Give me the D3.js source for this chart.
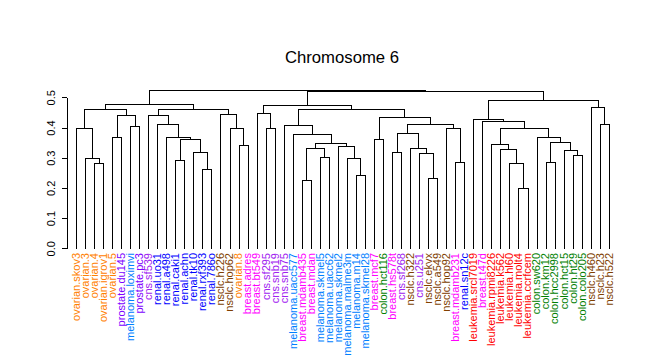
<!DOCTYPE html>
<html><head><meta charset="utf-8">
<script src="https://cdn.jsdelivr.net/npm/d3@7/dist/d3.min.js"></script>
<style>
body{margin:0;background:#fff}
svg{display:block}
text{font-family:"Liberation Sans",Arial,Helvetica,sans-serif}
</style>
</head><body>
<svg id="chart" width="647" height="360"></svg>
<script>
const title = "Chromosome 6";

const labels = [
  "ovarian.skov3","ovarian.3","ovarian.4","ovarian.igrov1","ovarian.5",
  "prostate.du145","melanoma.loximvi","prostate.pc3","cns.sf539","renal.uo31",
  "renal.a498","renal.caki1","renal.achn","renal.tk10","renal.rxf393",
  "renal.786o","nsclc.h226","nsclc.hop62","ovarian.8","breast.adres",
  "breast.bt549","cns.sf295","cns.snb19","cns.snb75","melanoma.uacc577",
  "breast.mdamb435","breast.mdan","melanoma.skmel5","melanoma.uacc62","melanoma.skmel2",
  "melanoma.malme3m","melanoma.m14","melanoma.skmel28","breast.mcf7","colon.hct116",
  "breast.hs578t","cns.sf268","nsclc.h322","cns.u251","nsclc.ekvx",
  "nsclc.a549","nsclc.hop92","breast.mdamb231","renal.sn12c","leukemia.srcl7019",
  "breast.t47d","leukemia.rpmi8226","leukemia.k562","leukemia.hl60","leukemia.molt4",
  "leukemia.ccrfcem","colon.sw620","colon.km12","colon.hcc2998","colon.hct15",
  "colon.ht29","colon.colo205","nsclc.h460","nsclc.h23","nsclc.h522"
];

// merges: negative = leaf (1-based position), positive = earlier merge (1-based)
const merges = [
  [-3,-4],[-2,1],[-1,2],[-5,-6],[-7,-8],[4,5],[3,6],
  [-15,-16],[-14,8],[-12,-13],[10,9],[-11,11],[-10,12],[-9,13],
  [-19,-20],[-18,15],[-17,16],[14,17],[7,18],
  [-22,-23],[-21,20],[-26,-27],[-28,-29],[22,23],[-32,-33],[-31,25],[-30,26],
  [24,27],[-25,28],[-24,29],[-34,-35],[-36,-37],[-40,-41],[-39,33],[-38,34],
  [32,35],[-43,-44],[-42,37],[36,38],[31,39],[30,40],[21,41],
  [-50,-51],[-49,43],[-48,44],[-47,45],[-53,-54],[-56,-57],[-55,48],[47,49],
  [-52,50],[46,51],[-46,52],[-45,53],[-59,-60],[-58,55],[54,56],[42,57],[19,58]
];
const mergeHeights = [
  0.283,0.298,0.400,0.370,0.406,0.442,0.460,
  0.262,0.320,0.293,0.361,0.370,0.410,0.440,
  0.341,0.400,0.444,0.460,0.477,
  0.397,0.447,0.227,0.301,0.331,0.242,0.298,0.338,
  0.348,0.377,0.407,0.361,0.318,0.232,0.317,0.331,
  0.383,0.285,0.397,0.413,0.436,0.460,0.473,
  0.199,0.281,0.328,0.344,0.285,0.308,0.327,0.353,
  0.368,0.400,0.420,0.427,0.410,0.467,0.491,0.521,0.524
];

const yTicks = [0, 0.1, 0.2, 0.3, 0.4, 0.5];

const groupColors = {
  ovarian:"#FF8000", prostate:"#8000FF", melanoma:"#0080FF", cns:"#A020F0",
  renal:"#0000FF", nsclc:"#804000", breast:"#FF00FF", colon:"#008000", leukemia:"#FF0000"
};

const svg = d3.select("#chart");
const x = d3.scaleLinear().domain([1, labels.length]).range([76, 608.8]);
const y = d3.scaleLinear().domain([0, 0.5]).range([248.3, 97.3]);

// build tree
const leafNodes = labels.map((name, i) => ({name, pos: i + 1, height: 0}));
const mergeNodes = [];
merges.forEach((m, k) => {
  const kids = m.map(v => v < 0 ? leafNodes[-v - 1] : mergeNodes[v - 1]);
  mergeNodes.push({children: kids, height: mergeHeights[k], pos: (kids[0].pos + kids[1].pos) / 2});
});
const root = d3.hierarchy(mergeNodes[mergeNodes.length - 1]);

const g = svg.append("g").attr("fill", "none").attr("stroke", "#000").attr("stroke-width", 1)
  .attr("shape-rendering", "crispEdges");

root.descendants().filter(d => d.children).forEach(d => {
  const [a, b] = d.children.map(c => c.data);
  const h = y(d.data.height);
  const px = v => Math.round(x(v)) + 0.5;
  const py = v => Math.round(v) + 0.5;
  g.append("path").attr("d",
    `M${px(a.pos)},${py(y(a.height))}V${py(h)}H${px(b.pos)}V${py(y(b.height))}`);
});

// leaf labels
svg.append("g").selectAll("text").data(root.leaves()).join("text")
  .attr("transform", d => `translate(${x(d.data.pos)},253) rotate(-90)`)
  .attr("text-anchor", "end")
  .attr("dy", "0.35em")
  .attr("font-size", 11)
  .attr("fill", d => groupColors[d.data.name.split(".")[0]])
  .text(d => d.data.name);

// y axis
const axis = svg.append("g").attr("transform", "translate(66.5,0)")
  .call(d3.axisLeft(y).tickValues(yTicks).tickFormat(d3.format(".1f")).tickSize(5).tickSizeOuter(0));
axis.select(".domain").attr("stroke", "#000").attr("shape-rendering", "crispEdges");
axis.selectAll(".tick line").attr("stroke", "#000").attr("shape-rendering", "crispEdges");
axis.selectAll(".tick text")
  .attr("x", null).attr("dy", null)
  .attr("transform", "translate(-15,0) rotate(-90)")
  .attr("text-anchor", "middle")
  .attr("dy", "0.35em")
  .attr("fill", "#000")
  .attr("font-size", 11)
  .attr("font-family", '"Liberation Sans",Arial,sans-serif');

svg.append("text").attr("x", 342).attr("y", 63)
  .attr("text-anchor", "middle").attr("font-size", 16.7).attr("fill", "#000")
  .text(title);
</script>
</body></html>
